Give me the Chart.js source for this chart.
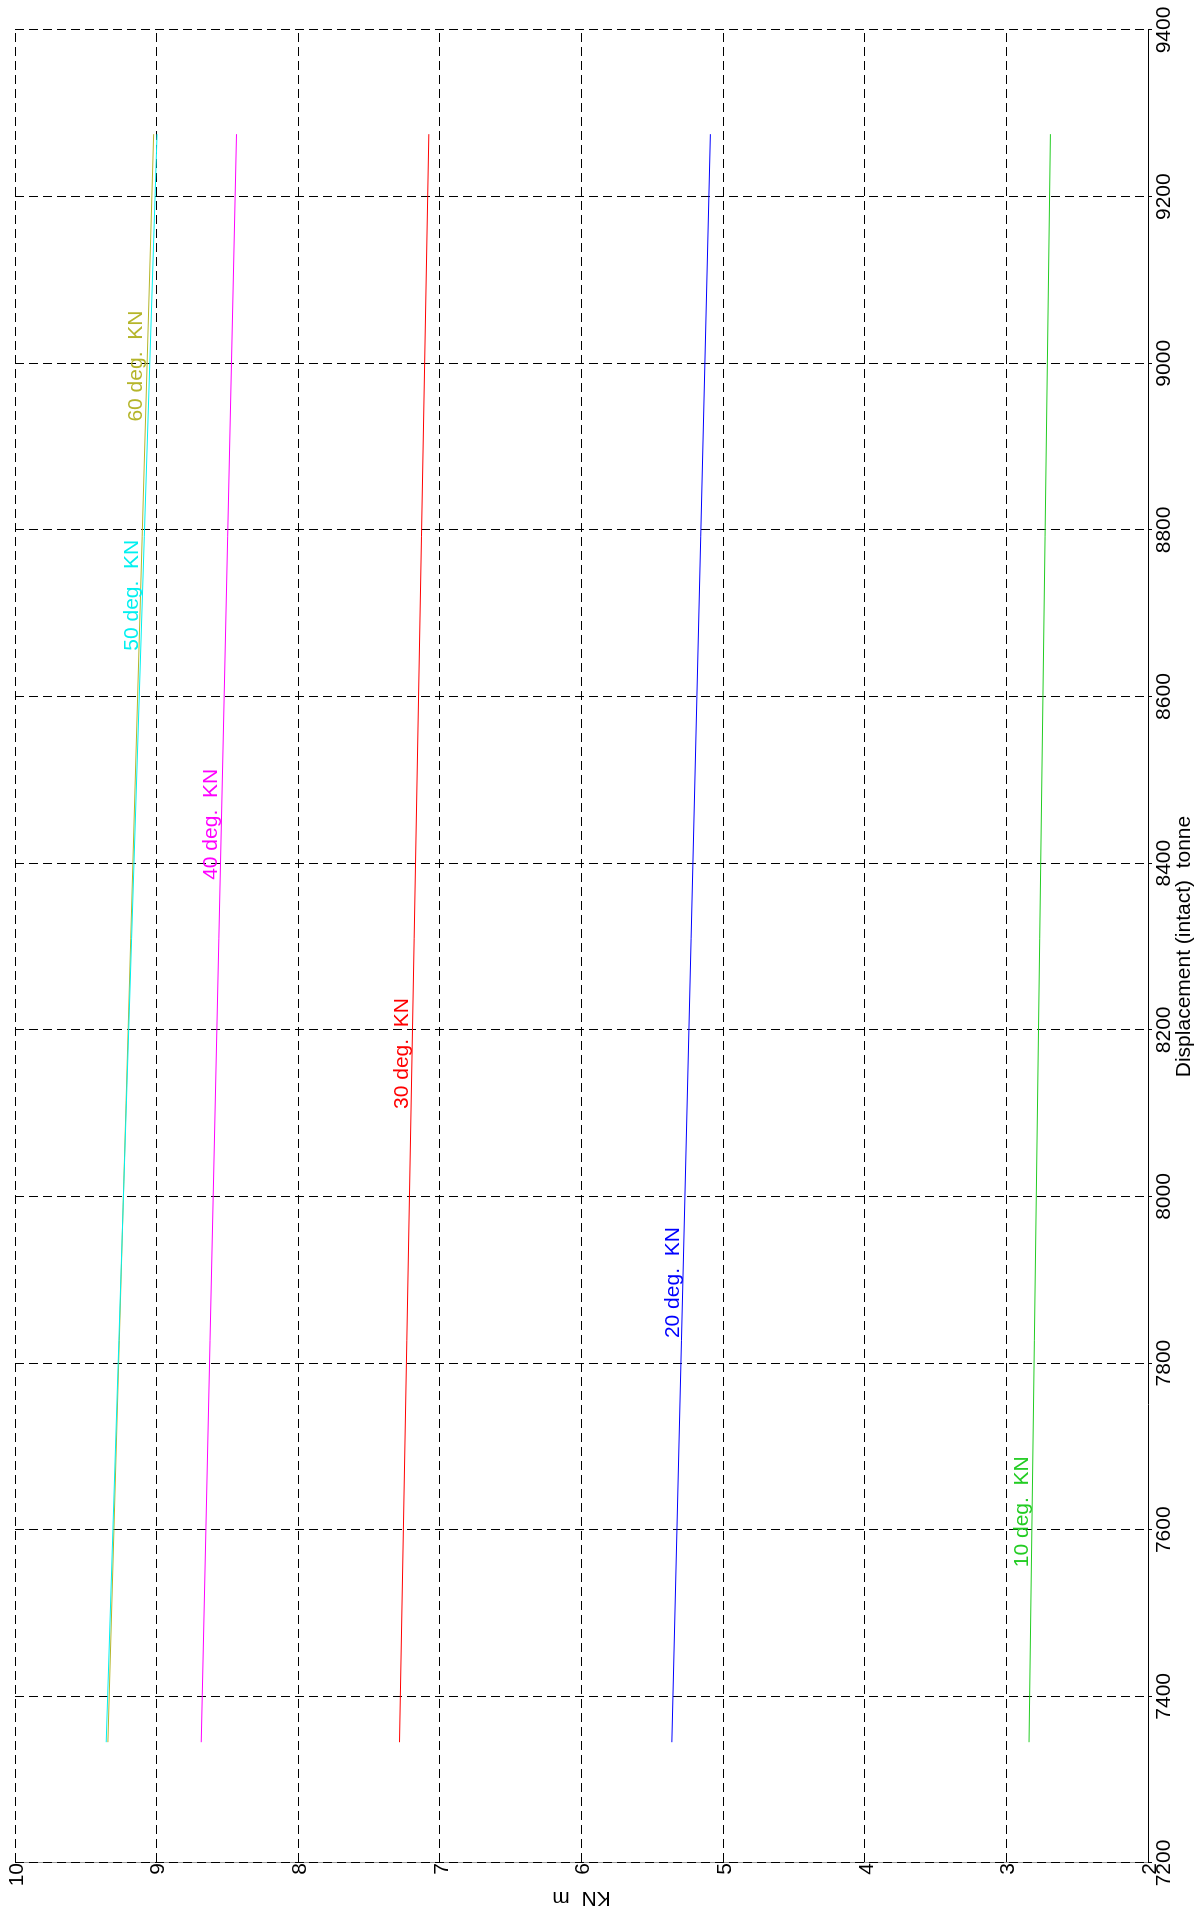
<!DOCTYPE html>
<html>
<head>
<meta charset="utf-8">
<script src="https://cdn.jsdelivr.net/npm/chart.js@4.4.0/dist/chart.umd.min.js"></script>
<style>
  html, body { margin: 0; padding: 0; background: #ffffff; overflow: hidden; }
  #wrap { position: relative; width: 1203px; height: 1915px; overflow: hidden; background: #ffffff; }
  #c { position: absolute; left: 0; top: 0; transform-origin: 0 0;
       transform: translate(0px, 1915px) rotate(-90deg); }
</style>
</head>
<body>
<div id="wrap"><canvas id="c" width="1915" height="1203"></canvas></div>
<script>
// ---- data ----
const displacement = [7345, 9275];           // tonne
const kn10 = [2.840, 2.689];
const kn20 = [5.362, 5.090];
const kn30 = [7.285, 7.078];
const kn40 = [8.685, 8.436];
const kn50 = [9.356, 8.997];
const kn60 = [9.344, 9.021];
const seriesNames = ['10 deg.  KN', '20 deg.  KN', '30 deg.  KN', '40 deg.  KN', '50 deg.  KN', '60 deg.  KN'];
const labelAt = [7555, 7830, 8105, 8380, 8655, 8930];   // displacement where each curve label starts
const dispTicks = [7200, 7400, 7600, 7800, 8000, 8200, 8400, 8600, 8800, 9000, 9200, 9400];
const knTicks = [2, 3, 4, 5, 6, 7, 8, 9, 10];
const xTitle = 'Displacement (intact)  tonne';
const yTitle = 'KN  m';

// ---- styles ----
const colors = ['#22cc22', '#0000ff', '#ff0000', '#ff00ff', '#00f0f0', '#b5b52a'];
const FONT = "'Liberation Sans', Arial, Helvetica, sans-serif";

const seriesValues = [kn10, kn20, kn30, kn40, kn50, kn60];
const datasets = seriesValues.map((vals, i) => ({
  label: seriesNames[i],
  data: displacement.map((d, j) => ({ x: d, y: vals[j] })),
  borderColor: colors[i],
  backgroundColor: colors[i],
  borderWidth: 1,
  pointRadius: 0,
  fill: false,
  tension: 0
}));

const curveLabels = {
  id: 'curveLabels',
  afterDatasetsDraw(chart) {
    const ctx = chart.ctx;
    const xs = chart.scales.x, ys = chart.scales.y;
    ctx.save();
    ctx.font = '21px ' + FONT;
    ctx.textAlign = 'left';
    ctx.textBaseline = 'alphabetic';
    chart.data.datasets.forEach((ds, i) => {
      const d = labelAt[i];
      const pts = ds.data;
      let v = pts[0].y;
      for (let k = 0; k < pts.length - 1; k++) {
        if (d >= pts[k].x && d <= pts[k + 1].x) {
          const t = (d - pts[k].x) / (pts[k + 1].x - pts[k].x);
          v = pts[k].y + t * (pts[k + 1].y - pts[k].y);
        }
      }
      ctx.fillStyle = colors[i];
      ctx.fillText(seriesNames[i], xs.getPixelForValue(d), ys.getPixelForValue(v) - 3);
    });
    ctx.restore();
  }
};

new Chart(document.getElementById('c'), {
  type: 'line',
  data: { datasets },
  options: {
    responsive: false,
    animation: false,
    devicePixelRatio: 1,
    layout: { padding: { left: 0, top: 15, right: 30, bottom: 0 } },
    plugins: { legend: { display: false }, tooltip: { enabled: false } },
    scales: {
      x: {
        type: 'linear',
        position: 'bottom',
        min: 7200, max: 9400,
        afterBuildTicks: s => { s.ticks = dispTicks.map(v => ({ value: v })); },
        afterFit: s => { s.height = 55; },
        ticks: {
          autoSkip: false, maxRotation: 0, minRotation: 0, padding: 0,
          color: '#000', font: { family: FONT, size: 21 },
          callback: v => String(v)
        },
        grid: { color: '#000', lineWidth: 1, drawTicks: true, tickLength: 4, tickColor: '#000' },
        border: { display: true, color: '#000', width: 1, dash: [9, 5] },
        title: { display: true, text: xTitle, color: '#000', font: { family: FONT, size: 21 }, padding: { top: 0, bottom: 6 } }
      },
      y: {
        type: 'linear',
        position: 'left',
        min: 2, max: 10,
        afterBuildTicks: s => { s.ticks = knTicks.map(v => ({ value: v })); },
        afterFit: s => { s.width = 52; },
        ticks: {
          autoSkip: false, padding: 0, labelOffset: 2,
          color: '#000', font: { family: FONT, size: 21 },
          callback: v => String(v)
        },
        grid: { color: '#000', lineWidth: 1, drawTicks: false },
        border: { display: true, color: 'rgba(0,0,0,0.4)', width: 1, dash: [9, 5] },
        title: { display: true, text: yTitle, color: '#000', font: { family: FONT, size: 21 }, padding: { top: 5, bottom: 0 } }
      }
    }
  },
  plugins: [curveLabels]
});
</script>
</body>
</html>
